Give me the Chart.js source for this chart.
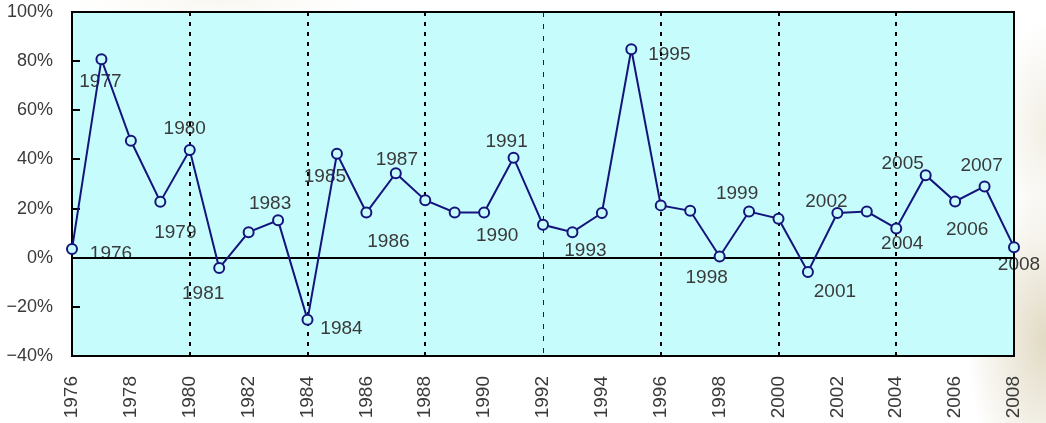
<!DOCTYPE html>
<html>
<head>
<meta charset="utf-8">
<script src="https://cdn.jsdelivr.net/npm/chart.js@4/dist/chart.umd.min.js"></script>
<style>
  html, body { margin: 0; padding: 0; }
  body {
    width: 1046px; height: 423px; overflow: hidden;
    background:
      radial-gradient(ellipse 80px 150px at 1046px 340px, rgba(215,205,175,0.75), rgba(230,222,200,0) 100%),
      radial-gradient(ellipse 50px 110px at 1046px 130px, rgba(225,218,195,0.45), rgba(235,230,210,0) 100%),
      radial-gradient(ellipse 150px 30px at 220px 0px, rgba(235,225,200,0.25), rgba(245,240,225,0) 100%),
      #ffffff;
  }
  #wrap { position: relative; width: 1046px; height: 423px; }
</style>
</head>
<body>
<div id="wrap"><canvas id="c" width="1046" height="423"></canvas></div>
<script>
// ---- data ----
const years = ['1976','1977','1978','1979','1980','1981','1982','1983','1984','1985','1986',
  '1987','1988','1989','1990','1991','1992','1993','1994','1995','1996','1997','1998','1999',
  '2000','2001','2002','2003','2004','2005','2006','2007','2008'];
const growthPct = [3.5, 80.8, 47.6, 22.8, 43.8, -4.2, 10.4, 15.2, -25.2, 42.3, 18.4,
  34.4, 23.4, 18.4, 18.4, 40.7, 13.4, 10.4, 18.2, 84.8, 21.3, 19.1, 0.5, 18.8,
  15.9, -5.8, 18.2, 18.8, 11.9, 33.6, 22.9, 29.0, 4.3];
const xTickLabels = ['1976','1978','1980','1982','1984','1986','1988','1990','1992','1994',
  '1996','1998','2000','2002','2004','2006','2008'];
const yTickValues = [-40, -20, 0, 20, 40, 60, 80, 100];
const labeledYears = ['1976','1977','1979','1980','1981','1983','1984','1985','1986','1987',
  '1990','1991','1993','1995','1998','1999','2001','2002','2004','2005','2006','2007','2008'];

// ---- styles / label placement (pixels relative to the point) ----
const labelOffsets = {
  '1976':[39,4], '1977':[-1,22], '1979':[15,30], '1980':[-5,-22], '1981':[-16,25],
  '1983':[-8,-18], '1984':[34,8], '1985':[-12,22], '1986':[22,28], '1987':[1,-14],
  '1990':[13,22], '1991':[-7,-17], '1993':[13,18], '1995':[38,4], '1998':[-13,20],
  '1999':[-12,-19], '2001':[27,19], '2002':[-11,-12], '2004':[6,14], '2005':[-23,-12],
  '2006':[12,27], '2007':[-3,-22], '2008':[5,17]
};
const PLOT_BG = '#c6fcfc';
const LINE_COLOR = '#14147a';
const TEXT_COLOR = '#3a3a3a';
const FONT = 'Liberation Sans';

const decoPlugin = {
  id: 'deco',
  beforeDraw(chart) {
    const {ctx, chartArea: a} = chart;
    ctx.save();
    ctx.fillStyle = PLOT_BG;
    ctx.fillRect(a.left, a.top, a.right - a.left, a.bottom - a.top);
    const meta = chart.getDatasetMeta(0);
    ctx.font = '19px "' + FONT + '"';
    ctx.fillStyle = TEXT_COLOR;
    ctx.textAlign = 'center';
    ctx.textBaseline = 'middle';
    labeledYears.forEach(y => {
      const i = years.indexOf(y);
      const p = meta.data[i];
      const off = labelOffsets[y] || [0, -15];
      ctx.fillText(y, p.x + off[0], p.y + off[1] + 1);
    });
    ctx.restore();
  },
  beforeDatasetsDraw(chart) {
    const {ctx, chartArea: a, scales} = chart;
    ctx.save();
    ctx.strokeStyle = '#000';
    ctx.lineWidth = 2;
    yTickValues.forEach(v => {
      if (v === -40 || v === 100) return;
      const py = Math.round(scales.y.getPixelForValue(v));
      ctx.beginPath();
      ctx.moveTo(a.left, py);
      ctx.lineTo(a.left + 8, py);
      ctx.stroke();
    });
    ctx.strokeRect(a.left, a.top, a.right - a.left, a.bottom - a.top);
    ctx.restore();
  }
};

new Chart(document.getElementById('c'), {
  type: 'line',
  data: {
    labels: years,
    datasets: [{
      data: growthPct,
      borderColor: LINE_COLOR,
      borderWidth: 2,
      tension: 0,
      pointRadius: 5,
      pointHoverRadius: 5,
      pointBorderWidth: 2,
      pointBorderColor: LINE_COLOR,
      pointBackgroundColor: PLOT_BG,
      clip: false
    }]
  },
  options: {
    responsive: false,
    animation: false,
    events: [],
    layout: { padding: { top: 12, right: 32, left: 0, bottom: 0 } },
    plugins: { legend: { display: false }, tooltip: { enabled: false } },
    scales: {
      x: {
        type: 'category',
        offset: false,
        afterFit(s) { s.height = 67; s.paddingLeft = 0; s.paddingRight = 0; },
        border: { display: false,
          dash: ctx => (ctx.index === 16 ? [5, 7] : [4, 6]) },
        grid: {
          drawTicks: false,
          color: ctx => {
            const i = ctx.index;
            if (i === 0 || i === years.length - 1 || i % 4 !== 0) return 'rgba(0,0,0,0)';
            return i === 16 ? '#222' : '#000';
          },
          lineWidth: ctx => (ctx.index === 16 ? 1 : 2)
        },
        ticks: {
          autoSkip: false,
          maxRotation: 90,
          minRotation: 90,
          padding: 20,
          color: TEXT_COLOR,
          font: { family: FONT, size: 19 },
          callback(v, i) {
            const lab = years[i];
            return xTickLabels.includes(lab) ? lab : '';
          }
        }
      },
      y: {
        min: -40,
        max: 100,
        afterFit(s) { s.width = 72; s.paddingTop = 0; s.paddingBottom = 0; },
        afterBuildTicks(s) { s.ticks = yTickValues.map(v => ({ value: v })); },
        border: { display: false },
        grid: {
          drawTicks: false,
          color: ctx => (ctx.tick && ctx.tick.value === 0 ? '#000' : 'rgba(0,0,0,0)'),
          lineWidth: 2
        },
        ticks: {
          padding: 19,
          color: TEXT_COLOR,
          font: { family: FONT, size: 18 },
          callback: v => (v < 0 ? '\u2212' + Math.abs(v) : v) + '%'
        }
      }
    }
  },
  plugins: [decoPlugin]
});
</script>
</body>
</html>
